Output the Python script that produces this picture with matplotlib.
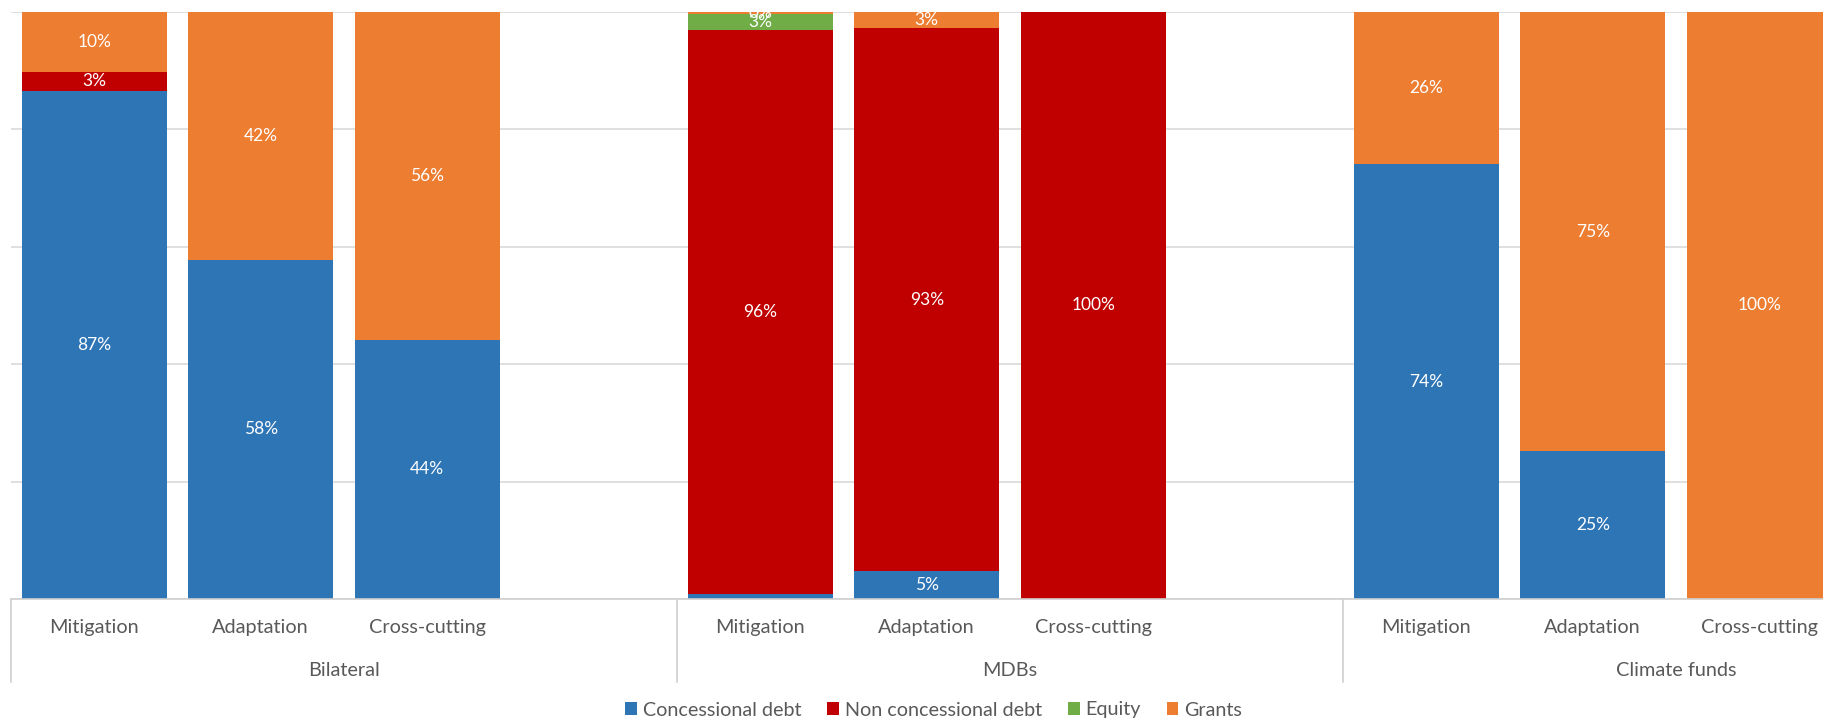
"""
Financing instruments by channel and theme, shares of total
"""

import numpy as np
import matplotlib.pyplot as plt
from matplotlib.patches import Patch
from matplotlib.transforms import blended_transform_factory

plt.rcParams['font.family'] = ['Lato', 'DejaVu Sans']

groups = ['Bilateral', 'MDBs', 'Climate funds']
themes = ['Mitigation', 'Adaptation', 'Cross-cutting']
series = ['Concessional debt', 'Non concessional debt', 'Equity', 'Grants']
colors = ['#2E75B6', '#C00000', '#70AD47', '#ED7D31']

# shares per bar, bars ordered Bilateral (Mit, Ada, Cross), MDBs (...), Climate funds (...)
concessional = [0.866, 0.578, 0.442, 0.009, 0.047, 0.0, 0.741, 0.252, 0.0]
non_concessional = [0.032, 0.0, 0.0, 0.961, 0.926, 1.0, 0.0, 0.0, 0.0]
equity = [0.0, 0.0, 0.0, 0.026, 0.0, 0.0, 0.0, 0.0, 0.0]
grants = [0.102, 0.422, 0.558, 0.004, 0.027, 0.0, 0.259, 0.748, 1.0]

# labels left off on purpose: (series index, bar index)
hidden_labels = {(0, 3)}

values = [concessional, non_concessional, equity, grants]

W, H, DPI = 1824, 721, 100
fig = plt.figure(figsize=(W / DPI, H / DPI), dpi=DPI)

ax_left = 11 / W
ax_bottom = 1 - 599 / H
ax_height = 587 / H
ax = fig.add_axes([ax_left, ax_bottom, 1 - ax_left, ax_height])

slot_px = 166.5
slots = len(themes) + 1  # one empty slot after each group
x = []
for g in range(len(groups)):
    for t in range(len(themes)):
        x.append(g * slots + t)
x = np.array(x)

bottom = np.zeros(len(x))
for i, (name, vals, col) in enumerate(zip(series, values, colors)):
    vals = np.array(vals)
    ax.bar(x, vals, bottom=bottom, width=0.868, color=col, zorder=3)
    for j in range(len(x)):
        if vals[j] <= 0 or (i, j) in hidden_labels:
            continue
        ax.text(x[j], bottom[j] + vals[j] / 2, '{:.0f}%'.format(vals[j] * 100),
                ha='center', va='center', color='white', fontsize=12.5,
                zorder=4, clip_on=True)
    bottom += vals

ax.set_xlim(-0.5, -0.5 + (W - 11) / slot_px)
ax.set_ylim(0, 1)
ax.set_yticks(np.arange(0, 1.01, 0.2))
ax.yaxis.grid(True, color='#D9D9D9', linewidth=1.2, zorder=0)
ax.tick_params(left=False, bottom=False, labelleft=False, labelbottom=False)
for s in ax.spines.values():
    s.set_visible(False)
ax.axhline(0, color='#D0D0D0', linewidth=1.2, zorder=5, clip_on=False)

# two-level category axis below the plot
trans = blended_transform_factory(ax.transData, ax.transAxes)
sep_bottom = (599 - 682) / 587
for g in range(len(groups) + 1):
    xs = g * slots - 0.5
    ax.plot([xs, xs], [0, sep_bottom], color='#D0D0D0', linewidth=1.2,
            transform=trans, clip_on=False)
for j, xj in enumerate(x):
    ax.text(xj, (599 - 628) / 587, themes[j % len(themes)], transform=trans,
            ha='center', va='center', fontsize=14.3, color='#595959')
for g, name in enumerate(groups):
    ax.text(g * slots + (slots - 1) / 2, (599 - 670) / 587, name, transform=trans,
            ha='center', va='center', fontsize=14.3, color='#595959')

handles = [Patch(facecolor=c, edgecolor='none') for c in colors]
leg = fig.legend(handles, series, loc='center', bbox_to_anchor=(0.512, 1 - 710 / H),
                 ncol=4, frameon=False, fontsize=14.2, handlelength=0.6,
                 handleheight=0.6, handletextpad=0.3, columnspacing=1.3)
for t in leg.get_texts():
    t.set_color('#595959')

plt.savefig('out.png', dpi=DPI)
